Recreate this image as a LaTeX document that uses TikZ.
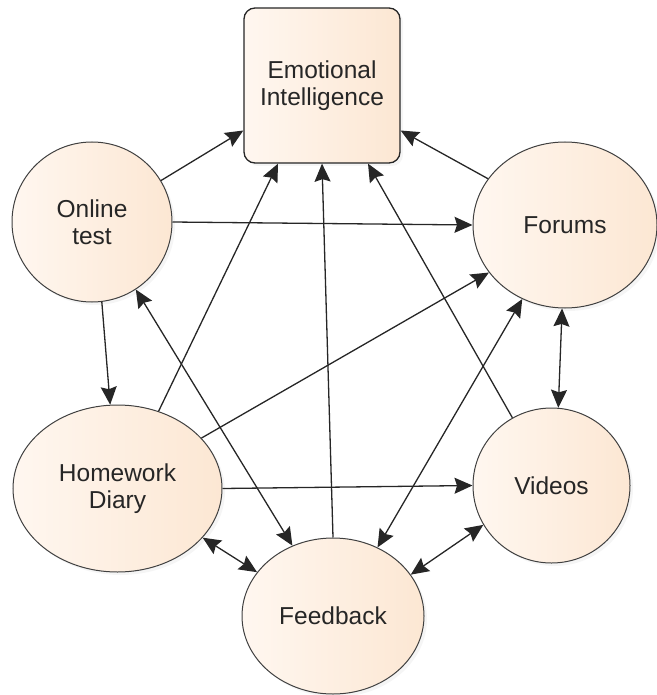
\documentclass[tikz,border=0pt]{standalone}
\usepackage{fontspec}
\newfontfamily\nodefont{Liberation Sans}
\usepackage{tikz}
\usetikzlibrary{shapes.geometric, arrows.meta, shadows}
\definecolor{peachlo}{HTML}{FFF7F0}
\definecolor{peachhi}{HTML}{FCE7D3}
\tikzset{
  topic/.style = {ellipse, draw=black!75, line width=1pt, left color=peachlo,
                  right color=peachhi, inner sep=0pt, align=center, text=black!85,
                  font={\nodefont\fontsize{24.5}{27}\selectfont},
                  drop shadow={opacity=0.08, shadow xshift=3pt, shadow yshift=-3pt}},
  goal/.style  = {rectangle, rounded corners=11pt, draw=black!85, line width=1.3pt,
                  left color=peachlo, right color=peachhi, inner sep=0pt,
                  minimum width=156pt, minimum height=155pt, align=center,
                  text=black!85, font={\nodefont\fontsize{24.5}{27}\selectfont},
                  drop shadow={opacity=0.08, shadow xshift=3pt, shadow yshift=-3pt}},
  fl/.style    = {-{Stealth[length=18pt, width=16pt, inset=2.5pt]}, draw=black!85,
                  line width=1.3pt},
  bi/.style    = {{Stealth[length=18pt, width=16pt, inset=2.5pt]}-{Stealth[length=18pt, width=16pt, inset=2.5pt]},
                  draw=black!85, line width=1.3pt},
}

\begin{document}
\begin{tikzpicture}[x=1pt, y=-1pt]
  \useasboundingbox (0,0) rectangle (656,695);

  \node[goal] (ei) at (322,85.5) {Emotional\\Intelligence};
  \node[topic, minimum width=160pt, minimum height=160pt] (on) at (92,222)    {Online\\test};
  \node[topic, minimum width=184pt, minimum height=166pt] (fo) at (565,225)   {Forums};
  \node[topic, minimum width=209pt, minimum height=167pt] (hd) at (117.5,488.5) {Homework\\Diary};
  \node[topic, minimum width=157pt, minimum height=155pt] (vi) at (551.5,485.5) {Videos};
  \node[topic, minimum width=182pt, minimum height=156pt] (fb) at (333,616)   {Feedback};

  % one-way links
  \draw[fl] (on.31)  -- ([yshift=-45pt]ei.west);
  \draw[fl] (on.east) -- (fo.west);
  \draw[fl] (on.-83) -- (hd.95);
  \draw[fl] (fo.149) -- ([yshift=-45pt]ei.east);
  \draw[fl] (hd.62)  -- ([xshift=-44pt]ei.south);
  \draw[fl] (hd.31)  -- (fo.212);
  \draw[fl] (hd.east) -- (vi.west);
  \draw[fl] (fb.north) -- (ei.south);
  \draw[fl] (vi.120) -- ([xshift=46pt]ei.south);

  % two-way links
  \draw[bi] (hd.-30) -- (fb.150);
  \draw[bi] (on.-57) -- (fb.120);
  \draw[bi] (fb.57)  -- (fo.240);
  \draw[bi] (fo.-92) -- (vi.85);
  \draw[bi] (fb.28)  -- (vi.210);
\end{tikzpicture}
\end{document}
